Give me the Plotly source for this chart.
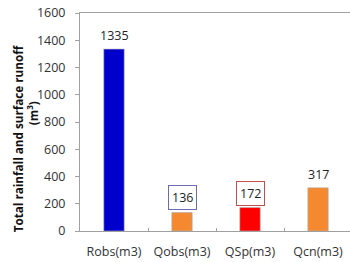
import plotly.graph_objects as go

categories = ["Robs(m3)", "Qobs(m3)", "QSp(m3)", "Qcn(m3)"]
values = [1335, 136, 172, 317]
colors = ["#0000cc", "#f5892f", "#ff0000", "#f5892f"]
label_borders = [None, "#6b6bb5", "#c05050", None]
title_line1 = "Total rainfall and surface runoff"
title_line2 = "(m<sup>3</sup>)"

fig = go.Figure()
fig.add_trace(go.Bar(
    x=categories, y=values,
    marker=dict(color=colors, line=dict(color="#b0b0b0", width=0.6)),
    width=0.3,
))

for c, v, b in zip(categories, values, label_borders):
    fig.add_annotation(
        x=c, y=v, yanchor="bottom", yshift=2,
        text=str(v), showarrow=False,
        font=dict(family="Open Sans", size=12.5, color="#222222"),
        bordercolor=b if b else "rgba(0,0,0,0)", borderwidth=1 if b else 0,
        borderpad=3, bgcolor="white" if b else "rgba(0,0,0,0)",
    )

# y-axis title drawn as two rotated annotations (lines placed as in the reference)
fig.add_annotation(
    xref="paper", yref="paper", x=-0.2296, y=0.425,
    xanchor="center", yanchor="middle", textangle=-90, showarrow=False,
    text=f"<b>{title_line1}</b>",
    font=dict(family="Open Sans", size=11.7, color="#111111"),
)
fig.add_annotation(
    xref="paper", yref="paper", x=-0.1778, y=0.54,
    xanchor="center", yanchor="middle", textangle=-90, showarrow=False,
    text=f"<b>{title_line2}</b>",
    font=dict(family="Open Sans", size=11.7, color="#111111"),
)

fig.update_layout(
    width=350, height=262,
    margin=dict(l=80, r=0, t=13, b=31, autoexpand=False),
    paper_bgcolor="white", plot_bgcolor="white",
    showlegend=False,
    font=dict(family="Open Sans", size=12, color="#333333"),
)
fig.update_xaxes(
    range=[-0.5, 3.47], automargin=False,
    showline=True, linecolor="#a0a0a0", linewidth=1, mirror=True,
    ticks="inside", tickson="boundaries", ticklen=3, tickcolor="#a0a0a0",
    tickfont=dict(family="Open Sans", size=12.5, color="#333333"),
    ticklabelstandoff=9,
    showgrid=False,
)
fig.update_yaxes(
    range=[0, 1600], dtick=200, automargin=False,
    showline=True, linecolor="#a0a0a0", linewidth=1,
    ticks="outside", ticklen=4, tickcolor="#a0a0a0",
    ticklabelstandoff=7, ticklabeloverflow="allow",
    showgrid=False, zeroline=False,
    tickfont=dict(family="Open Sans", size=12.5, color="#333333"),
)

fig.write_html(
    "out.html",
    config={"displayModeBar": False},
    post_script="document.body.style.margin='0';document.body.style.padding='0';",
)
